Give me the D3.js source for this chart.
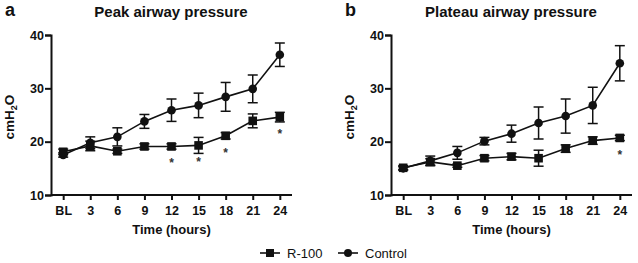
<!DOCTYPE html>
<html>
<head>
<meta charset="utf-8">
<script src="https://cdn.jsdelivr.net/npm/d3@7"></script>
<style>
  body { margin: 0; background: #fff; }
  svg { display: block; font-family: "Liberation Sans", Arial, sans-serif; }
</style>
</head>
<body>
<svg id="chart" width="638" height="263"></svg>
<script>
// time points (x categories)
const timeLabels = ['BL', '3', '6', '9', '12', '15', '18', '21', '24']
const yTicks = [10, 20, 30, 40]

// panel a - peak airway pressure (mean, sem)
const peakR100 = [18.1, 19.2, 18.2, 19.1, 19.1, 19.3, 21.1, 23.9, 24.6]
const peakR100Err = [0.5, 0.9, 0.4, 0.5, 0.5, 1.5, 0.6, 1.3, 0.9]
const peakControl = [17.5, 19.8, 20.9, 23.8, 25.9, 26.8, 28.4, 29.9, 36.3]
const peakControlErr = [0.4, 1.1, 1.7, 1.3, 2.1, 2.3, 2.7, 2.6, 2.2]
const peakStars = ['12', '15', '18', '24']

// panel b - plateau airway pressure
const platR100 = [15.1, 16.2, 15.5, 16.9, 17.2, 16.9, 18.7, 20.2, 20.7]
const platR100Err = [0.4, 0.6, 0.3, 0.5, 0.6, 1.5, 0.7, 0.7, 0.5]
const platControl = [15.0, 16.4, 17.9, 20.1, 21.5, 23.5, 24.8, 26.8, 34.7]
const platControlErr = [0.3, 0.9, 1.2, 0.7, 1.6, 3.0, 3.2, 3.4, 3.3]
const platStars = ['24']

const svg = d3.select('#chart')
const ink = '#111'

const drawPanel = (offsetX, letter, title, r100, r100Err, ctrl, ctrlErr, stars) => {
    const g = svg.append('g').attr('transform', `translate(${offsetX},0)`)

    const x = d3.scalePoint().domain(timeLabels).range([51, 292]).padding(0.45)
    const y = d3.scaleLinear().domain([10, 40]).range([195, 35])

    // axes
    const xAxis = g.append('g')
        .attr('transform', `translate(0,${y(10)})`)
        .call(d3.axisBottom(x).tickSizeOuter(0).tickSize(5).tickPadding(6))
    const yAxis = g.append('g')
        .attr('transform', `translate(51,0)`)
        .call(d3.axisLeft(y).tickValues(yTicks).tickSizeOuter(0).tickSize(6).tickPadding(1))
    ;[xAxis, yAxis].forEach(a => {
        a.selectAll('path, line').attr('stroke', ink).attr('stroke-width', 2)
        a.selectAll('text').attr('fill', ink)
            .style('font-size', '12.5px').style('font-weight', 'bold')
    })
    xAxis.select('.domain').attr('d', 'M51,0H292')

    // titles
    g.append('text').attr('x', 5).attr('y', 16)
        .style('font-size', '18px').style('font-weight', 'bold').attr('fill', ink)
        .text(letter)
    g.append('text').attr('x', 171).attr('y', 17).attr('text-anchor', 'middle')
        .style('font-size', '15px').style('font-weight', 'bold').attr('fill', ink)
        .text(title)
    g.append('text').attr('x', 171.5).attr('y', 234).attr('text-anchor', 'middle')
        .style('font-size', '13px').style('font-weight', 'bold').attr('fill', ink)
        .text('Time (hours)')
    const yl = g.append('text')
        .attr('transform', `translate(14,${(y(10) + y(40)) / 2 + 2}) rotate(-90)`)
        .attr('text-anchor', 'middle')
        .style('font-size', '13.5px').style('font-weight', 'bold').attr('fill', ink)
    yl.append('tspan').text('cmH')
    yl.append('tspan').attr('dy', 3).style('font-size', '9px').text('2')
    yl.append('tspan').attr('dy', -3).text('O')

    const line = d3.line().x((d, i) => x(timeLabels[i])).y(d => y(d))

    const series = [
        { vals: ctrl, err: ctrlErr, shape: 'circle' },
        { vals: r100, err: r100Err, shape: 'square' }
    ]
    series.forEach(s => {
        g.append('path').datum(s.vals)
            .attr('d', line).attr('fill', 'none')
            .attr('stroke', ink).attr('stroke-width', 1.6)
        const eb = g.append('g').selectAll('g').data(s.vals).enter().append('g')
            .attr('stroke', ink).attr('stroke-width', 1.5)
        eb.append('line')
            .attr('x1', (d, i) => x(timeLabels[i])).attr('x2', (d, i) => x(timeLabels[i]))
            .attr('y1', (d, i) => y(d + s.err[i])).attr('y2', (d, i) => y(d - s.err[i]))
        ;[1, -1].forEach(sg => {
            eb.append('line')
                .attr('x1', (d, i) => x(timeLabels[i]) - 5).attr('x2', (d, i) => x(timeLabels[i]) + 5)
                .attr('y1', (d, i) => y(d + sg * s.err[i])).attr('y2', (d, i) => y(d + sg * s.err[i]))
        })
    })
    series.forEach(s => {
        if (s.shape === 'circle') {
            g.append('g').selectAll('circle').data(s.vals).enter().append('circle')
                .attr('cx', (d, i) => x(timeLabels[i])).attr('cy', d => y(d))
                .attr('r', 4.3).attr('fill', ink)
        } else {
            g.append('g').selectAll('rect').data(s.vals).enter().append('rect')
                .attr('x', (d, i) => x(timeLabels[i]) - 4.3).attr('y', d => y(d) - 4.3)
                .attr('width', 8.6).attr('height', 8.6).attr('fill', ink)
        }
    })

    // significance markers below R-100
    g.append('g').selectAll('text').data(stars).enter().append('text')
        .attr('x', d => x(d))
        .attr('y', d => y(r100[timeLabels.indexOf(d)]) + 21)
        .attr('text-anchor', 'middle')
        .style('font-size', '12px').style('font-weight', 'bold').attr('fill', '#333')
        .text('*')
}

drawPanel(0, 'a', 'Peak airway pressure', peakR100, peakR100Err, peakControl, peakControlErr, peakStars)
drawPanel(340, 'b', 'Plateau airway pressure', platR100, platR100Err, platControl, platControlErr, platStars)

// legend
const legendItems = ['R-100', 'Control']
const lx = d3.scalePoint().domain(legendItems).range([260, 338])
const lg = svg.append('g').selectAll('g').data(legendItems).enter().append('g')
    .attr('transform', d => `translate(${lx(d)},253)`)
lg.append('line').attr('x1', 0).attr('x2', 20).attr('stroke', ink).attr('stroke-width', 1.6)
lg.filter(d => d === 'R-100').append('rect')
    .attr('x', 6).attr('y', -4).attr('width', 8).attr('height', 8).attr('fill', ink)
lg.filter(d => d === 'Control').append('circle')
    .attr('cx', 10).attr('r', 4).attr('fill', ink)
lg.append('text').attr('x', 27).attr('dy', '0.35em')
    .style('font-size', '13px').attr('fill', ink)
    .text(d => d)
</script>
</body>
</html>
